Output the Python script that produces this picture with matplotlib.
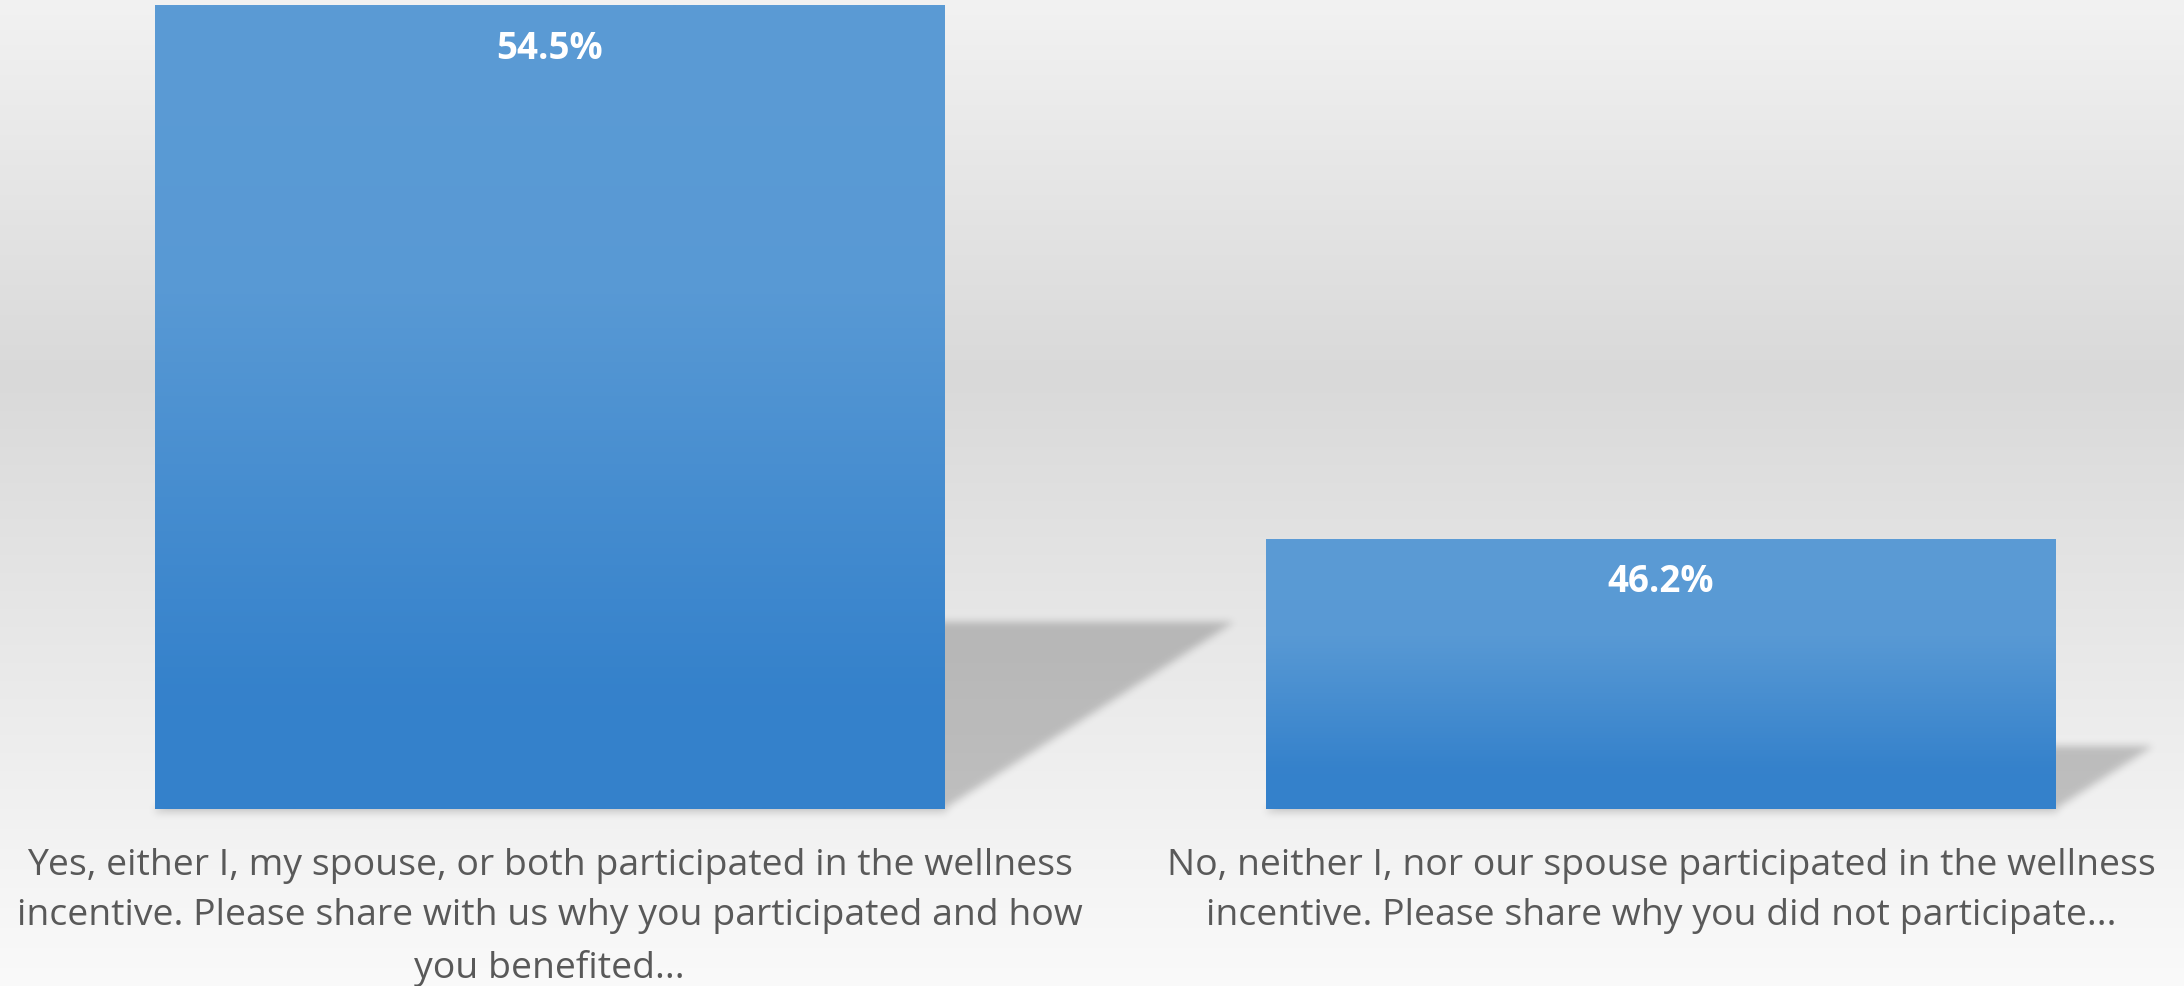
import numpy as np
import matplotlib.pyplot as plt

categories = [
    "Yes, either I, my spouse, or both participated in the wellness\n"
    "incentive. Please share with us why you participated and how\n"
    "you benefited...",
    "No, neither I, nor our spouse participated in the wellness\n"
    "incentive. Please share why you did not participate...",
]
values = [54.5, 46.2]
value_labels = ["54.5%", "46.2%"]

W, H = 2184, 986
plt.rcParams['font.family'] = ['Open Sans', 'DejaVu Sans']

fig = plt.figure(figsize=(W / 100, H / 100), dpi=100)

# background: soft grey vertical gradient
bg = fig.add_axes([0, 0, 1, 1], zorder=0)
bg.set_xlim(0, W)
bg.set_ylim(0, H)
bg.axis('off')
pos = [0.0, 0.38, 0.80, 1.0]
grey = [0.949, 0.851, 0.941, 0.980]
col = np.interp(np.linspace(0, 1, H), pos, grey)
bg_img = np.repeat(col[:, None], 4, axis=1)
bg.imshow(np.dstack([bg_img] * 3), extent=(0, W, 0, H), origin='upper',
          aspect='auto', zorder=0)

ax = fig.add_axes([0, 177 / H, 1, 809 / H], zorder=2)
ax.patch.set_alpha(0)
x = np.arange(len(values))
ax.set_xlim(-0.4944, 1.4705)
ax.set_ylim(42, 54.59)
bars = ax.bar(x, values, width=0.71, color='none', edgecolor='none')
for s in ax.spines.values():
    s.set_visible(False)
ax.set_yticks([])
ax.set_xticks(x, categories, fontsize=26.9, color='#595959', linespacing=1.54)
ax.tick_params(axis='x', length=0, pad=28)

# bar fill: light blue at the top fading to a deeper blue
g_pos = [0.0, 0.35, 0.85, 1.0]
top = np.array([0x5b, 0x9b, 0xd5]) / 255
bot = np.array([0x34, 0x81, 0xcb]) / 255
f = np.interp(np.linspace(0, 1, 256), g_pos, [0.0, 0.06, 0.97, 1.0])
grad = (top[None, :] * (1 - f[:, None]) + bot[None, :] * f[:, None])[:, None, :]
y0 = ax.get_ylim()[0]
for b in bars:
    ax.imshow(grad, extent=(b.get_x(), b.get_x() + b.get_width(), y0, b.get_height()),
              origin='upper', aspect='auto', zorder=3, interpolation='bilinear')
ax.set_xlim(-0.4944, 1.4705)
ax.set_ylim(42, 54.59)

for b, lab in zip(bars, value_labels):
    ax.annotate(lab, (b.get_x() + b.get_width() / 2, b.get_height()),
                xytext=(0, -31), textcoords='offset points', ha='center', va='center',
                fontsize=26.5, fontweight='bold', color='white', zorder=5)


def blur(a, sigma):
    r = int(3 * sigma)
    k = np.exp(-0.5 * (np.arange(-r, r + 1) / sigma) ** 2)
    k /= k.sum()
    p = np.pad(a, ((0, 0), (r, r)), mode='edge')
    out = sum(w * p[:, i:i + a.shape[1]] for i, w in enumerate(k))
    p = np.pad(out, ((r, r), (0, 0)), mode='edge')
    return sum(w * p[i:i + a.shape[0], :] for i, w in enumerate(k))


# cast shadows falling to the right of each bar
fig.canvas.draw()
yy, xx = np.mgrid[0:H, 0:W]
mask = np.zeros((H, W))
for b in bars:
    (px0, pyb), (px1, pyt) = ax.transData.transform(
        [(b.get_x(), y0), (b.get_x() + b.get_width(), b.get_height())])
    h = pyt - pyb
    t = (yy - pyb) / (0.232 * h)
    m = (t >= 0) & (t <= 1) & (xx >= px0 + t * 0.36 * h) & (xx <= px1 + t * 0.36 * h)
    mask = np.maximum(mask, m.astype(float))
    under = (yy >= pyb - 4) & (yy < pyb) & (xx >= px0) & (xx <= px1 + 2)
    mask = np.maximum(mask, 0.6 * under)
mask = blur(mask, 4.0)
shadow = np.zeros((H, W, 4))
shadow[..., 3] = mask * 0.21
bg.imshow(shadow, extent=(0, W, 0, H), origin='lower', aspect='auto', zorder=1)
bg.set_xlim(0, W)
bg.set_ylim(0, H)

fig.savefig('out.png', dpi=100)
